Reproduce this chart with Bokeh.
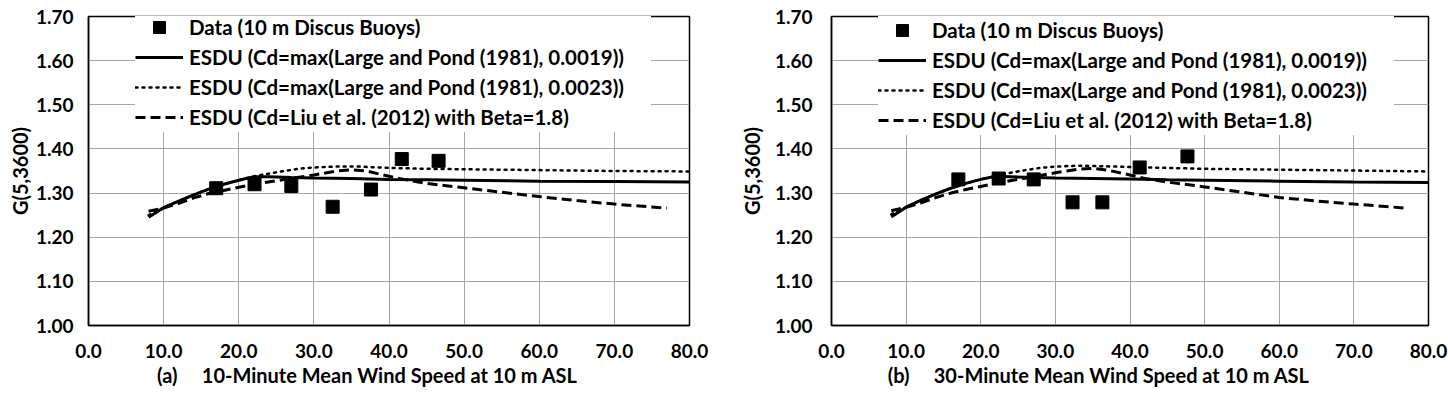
from bokeh.plotting import figure
from bokeh.layouts import row
from bokeh.models import (Legend, LegendItem, FixedTicker, NumeralTickFormatter, Range1d)
from bokeh.embed import file_html
from bokeh.resources import INLINE

# ---------------- data ----------------
y_ticks = [1.0, 1.1, 1.2, 1.3, 1.4, 1.5, 1.6, 1.7]
x_ticks = [0, 10, 20, 30, 40, 50, 60, 70, 80]

legend_labels = [
    "Data (10 m Discus Buoys)",
    "ESDU (Cd=max(Large and Pond (1981), 0.0019))",
    "ESDU (Cd=max(Large and Pond (1981), 0.0023))",
    "ESDU (Cd=Liu et al. (2012) with Beta=1.8)",
]

# (a) 10-minute mean
a_data_x = [17.0, 22.1, 27.0, 32.5, 37.6, 41.7, 46.6]
a_data_y = [1.311, 1.320, 1.316, 1.269, 1.308, 1.377, 1.373]

a_s19_x = [8, 10, 12, 14, 16, 18, 20, 22, 24, 27, 30, 35, 40, 45, 50, 60, 70, 80]
a_s19_y = [1.245, 1.267, 1.282, 1.296, 1.309, 1.320, 1.329, 1.337, 1.337, 1.335,
           1.334, 1.333, 1.331, 1.330, 1.329, 1.327, 1.326, 1.325]

a_s23_x = [8, 10, 12, 14, 16, 18, 20, 22, 24, 26, 28, 30, 33, 36, 40, 45, 50, 60, 70, 80]
a_s23_y = [1.250, 1.267, 1.282, 1.296, 1.309, 1.320, 1.329, 1.338, 1.344, 1.350,
           1.355, 1.358, 1.360, 1.360, 1.357, 1.355, 1.354, 1.352, 1.350, 1.349]

a_liu_x = [8, 10, 12, 14, 16, 18, 20, 22, 25, 28, 30, 33, 35, 37, 40, 42, 45, 50,
           55, 60, 65, 70, 77]
a_liu_y = [1.259, 1.266, 1.277, 1.289, 1.299, 1.306, 1.313, 1.320, 1.328, 1.336,
           1.341, 1.350, 1.353, 1.350, 1.338, 1.331, 1.322, 1.312, 1.302, 1.292,
           1.283, 1.275, 1.266]

# (b) 30-minute mean
b_data_x = [17.0, 22.4, 27.1, 32.3, 36.3, 41.3, 47.7]
b_data_y = [1.331, 1.333, 1.331, 1.279, 1.279, 1.358, 1.383]

b_s19_x = [8, 10, 12, 14, 16, 18, 20, 22, 24, 27, 30, 35, 40, 45, 50, 60, 70, 80]
b_s19_y = [1.246, 1.268, 1.284, 1.298, 1.311, 1.322, 1.331, 1.338, 1.337, 1.335,
           1.334, 1.333, 1.332, 1.330, 1.329, 1.327, 1.325, 1.324]

b_s23_x = [8, 10, 12, 14, 16, 18, 20, 22, 24, 26, 28, 30, 33, 36, 40, 45, 50, 60, 70, 80]
b_s23_y = [1.252, 1.268, 1.284, 1.298, 1.311, 1.322, 1.331, 1.339, 1.346, 1.352,
           1.357, 1.360, 1.362, 1.361, 1.359, 1.357, 1.355, 1.353, 1.351, 1.349]

b_liu_x = [8, 10, 12, 14, 16, 18, 20, 22, 25, 28, 30, 33, 35, 37, 40, 42, 45, 50,
           55, 60, 65, 70, 77]
b_liu_y = [1.260, 1.268, 1.278, 1.290, 1.300, 1.308, 1.315, 1.322, 1.331, 1.340,
           1.346, 1.354, 1.356, 1.352, 1.341, 1.333, 1.325, 1.314, 1.302, 1.290,
           1.282, 1.275, 1.266]

FONT = "Lato"
FIG_H = 392
NB = "\u00a0"


def make_panel(xlabel, data, s19, s23, liu, bl, fw, br, bt, bb,
               tick_standoff, ylabel_standoff):
    fh = FIG_H - bt - bb
    p = figure(width=bl + fw + br, height=FIG_H,
               min_border_left=bl, min_border_right=br,
               min_border_top=bt, min_border_bottom=bb,
               x_range=Range1d(0, 80), y_range=Range1d(1.0, 1.7),
               output_backend="svg", toolbar_location=None)
    p.background_fill_color = "white"
    p.border_fill_color = "white"
    p.outline_line_color = "black"
    p.outline_line_width = 1.5

    for ax in (p.xaxis[0], p.yaxis[0]):
        ax.major_tick_in = 0
        ax.major_tick_out = 0
        ax.minor_tick_in = 0
        ax.minor_tick_out = 0
        ax.axis_line_color = "black"
        ax.axis_line_width = 1.5
        ax.major_label_text_font = FONT
        ax.major_label_text_font_style = "bold"
        ax.major_label_text_font_size = "19px"
        ax.major_label_text_color = "black"
        ax.axis_label_text_font = FONT
        ax.axis_label_text_font_style = "bold"
        ax.axis_label_text_color = "black"

    p.xaxis.ticker = FixedTicker(ticks=x_ticks)
    p.xaxis.formatter = NumeralTickFormatter(format="0.0")
    p.xaxis.major_label_standoff = 18
    p.xaxis.axis_label = xlabel
    p.xaxis.axis_label_text_font_size = "20px"
    p.xaxis.axis_label_standoff = 2

    p.yaxis.ticker = FixedTicker(ticks=y_ticks)
    p.yaxis.formatter = NumeralTickFormatter(format="0.00")
    p.yaxis.major_label_standoff = tick_standoff
    p.yaxis.axis_label = "G(5,3600)"
    p.yaxis.axis_label_text_font_size = "20px"
    p.yaxis.axis_label_standoff = ylabel_standoff

    for g in (p.xgrid[0], p.ygrid[0]):
        g.grid_line_color = "#a6a6a6"
        g.grid_line_width = 1
    p.xgrid.ticker = FixedTicker(ticks=x_ticks)
    p.ygrid.ticker = FixedTicker(ticks=y_ticks)

    r19 = p.line(s19[0], s19[1], line_color="black", line_width=3)
    r23 = p.line(s23[0], s23[1], line_color="black", line_width=2.5,
                 line_dash="2 5", line_cap="round")
    rliu = p.line(liu[0], liu[1], line_color="black", line_width=3,
                  line_dash="10 5")
    rd = p.scatter(data[0], data[1], marker="square", size=13,
                   fill_color="black", line_color="black")

    legend = Legend(items=[
        LegendItem(label=legend_labels[0], renderers=[rd]),
        LegendItem(label=legend_labels[1], renderers=[r19]),
        LegendItem(label=legend_labels[2], renderers=[r23]),
        LegendItem(label=legend_labels[3], renderers=[rliu]),
    ])
    legend.label_text_font = FONT
    legend.label_text_font_style = "bold"
    legend.label_text_font_size = "20.5px"
    legend.label_text_color = "black"
    legend.glyph_width = 48
    legend.glyph_height = 30
    legend.label_height = 30
    legend.label_width = 462
    legend.label_standoff = 6
    legend.spacing = 0
    legend.padding = 0
    legend.margin = 0
    legend.border_line_color = None
    legend.background_fill_color = "white"
    legend.background_fill_alpha = 1.0
    legend.location = (47, fh - 120 - 1)
    p.add_layout(legend, "center")
    return p


pa = make_panel("(a)" + NB * 4 + " 10-Minute Mean Wind Speed at 10 m ASL" + NB * 9,
                (a_data_x, a_data_y), (a_s19_x, a_s19_y), (a_s23_x, a_s23_y),
                (a_liu_x, a_liu_y), bl=88, fw=601, br=31, bt=11, bb=67,
                tick_standoff=15, ylabel_standoff=1)
pb = make_panel("(b)" + NB * 4 + " 30-Minute Mean Wind Speed at 10 m ASL" + NB * 13,
                (b_data_x, b_data_y), (b_s19_x, b_s19_y), (b_s23_x, b_s23_y),
                (b_liu_x, b_liu_y), bl=111, fw=597, br=20, bt=16, bb=65,
                tick_standoff=19, ylabel_standoff=8)

layout = row(pa, pb)
open("out.html", "w").write(file_html(layout, INLINE))
